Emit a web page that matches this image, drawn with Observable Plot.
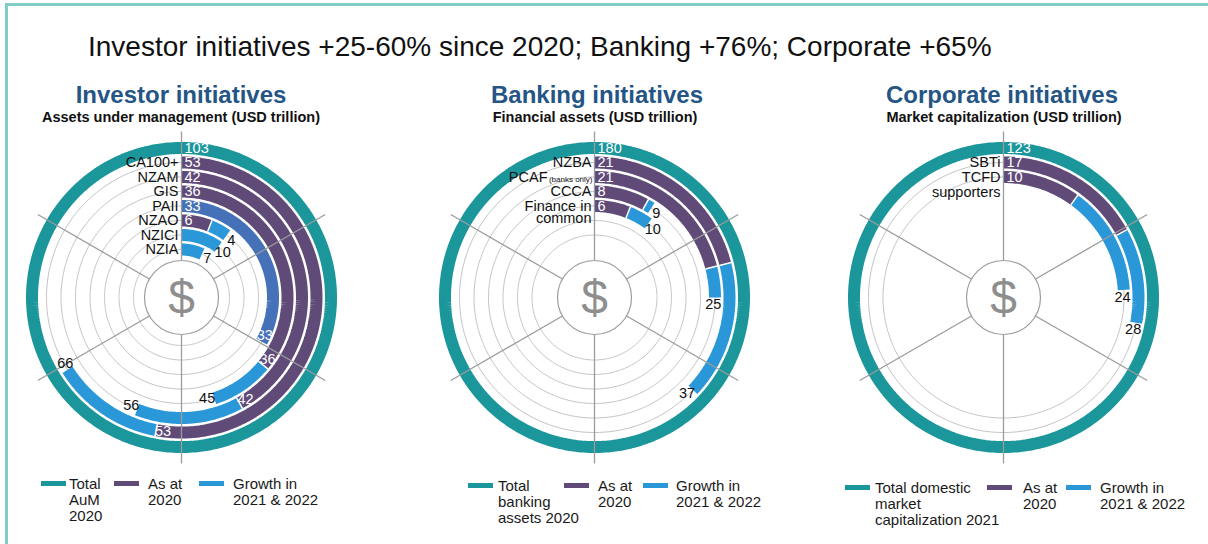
<!DOCTYPE html>
<html><head><meta charset="utf-8">
<script src="https://cdn.jsdelivr.net/npm/d3@7"></script>
<script src="https://cdn.jsdelivr.net/npm/@observablehq/plot@0.6"></script>
<style>
body{margin:0;background:#fff;}
#page{position:relative;width:1208px;height:544px;overflow:hidden;font-family:"Liberation Sans",Arial,sans-serif;color:#111;}
.frame-top{position:absolute;left:5px;top:3px;width:1203px;height:3px;background:#80ccc7;z-index:5;}
.frame-left{position:absolute;left:5px;top:3px;width:3px;height:541px;background:#80ccc7;z-index:5;}
#headline{position:absolute;left:88px;top:33px;font-size:28px;line-height:28px;white-space:nowrap;color:#111;}
.ptitle{position:absolute;top:83px;transform:translateX(-50%);font-weight:bold;color:#245585;font-size:24px;line-height:24px;white-space:nowrap;}
.psub{position:absolute;top:110px;transform:translateX(-50%);font-weight:bold;color:#111;font-size:14.5px;line-height:15px;white-space:nowrap;}
.chart{position:absolute;top:127px;width:400px;height:340px;}
.sw{position:absolute;width:25px;height:5px;}
.lt{position:absolute;font-size:15px;line-height:16px;white-space:pre;color:#1a1a1a;}
</style></head>
<body><div id="page">
<div class="frame-top"></div><div class="frame-left"></div>
<div id="headline"></div>
</div>
<script>
// ---------------- data ----------------
const headline = "Investor initiatives +25-60% since 2020; Banking +76%; Corporate +65%";
const seriesNames = ["Total", "As at 2020", "Growth in 2021 & 2022", "PAII"];

// Investor initiatives
const invTitle = "Investor initiatives";
const invSubtitle = "Assets under management (USD trillion)";
const invTotal = 103;
const invNames = ["CA100+", "NZAM", "GIS", "PAII", "NZAO", "NZICI", "NZIA"];
const invNameSmall = ["", "", "", "", "", "", ""];
const invNameLine2 = ["", "", "", "", "", "", ""];
const invBase = [53, 42, 36, 33, 6, 0, 0];
const invLatest = [66, 56, 45, 33, 10, 10, 7];
const invBaseSeries = ["As at 2020", "As at 2020", "As at 2020", "PAII", "As at 2020", "As at 2020", "As at 2020"];
const invTopLabels = ["53", "42", "36", "33", "6", "", ""];
const invMidLabels = ["53", "42", "36", "33", "", "", ""];
const invEndLabels = ["66", "56", "45", "", "4", "10", "7"];
const invLegend = ["Total\nAuM\n2020", "As at\n2020", "Growth in\n2021 & 2022"];

// Banking initiatives
const bnkTitle = "Banking initiatives";
const bnkSubtitle = "Financial assets (USD trillion)";
const bnkTotal = 180;
const bnkNames = ["NZBA", "PCAF", "CCCA", "Finance in"];
const bnkNameSmall = ["", "(banks only)", "", ""];
const bnkNameLine2 = ["", "", "", "common"];
const bnkBase = [21, 21, 8, 6];
const bnkLatest = [37, 25, 9, 10];
const bnkBaseSeries = ["As at 2020", "As at 2020", "As at 2020", "As at 2020"];
const bnkTopLabels = ["21", "21", "8", "6"];
const bnkMidLabels = ["", "", "", ""];
const bnkEndLabels = ["37", "25", "9", "10"];
const bnkLegend = ["Total\nbanking\nassets 2020", "As at\n2020", "Growth in\n2021 & 2022"];

// Corporate initiatives
const corTitle = "Corporate initiatives";
const corSubtitle = "Market capitalization (USD trillion)";
const corTotal = 123;
const corNames = ["SBTi", "TCFD"];
const corNameSmall = ["", ""];
const corNameLine2 = ["", "supporters"];
const corBase = [17, 10];
const corLatest = [28, 24];
const corBaseSeries = ["As at 2020", "As at 2020"];
const corTopLabels = ["17", "10"];
const corMidLabels = ["", ""];
const corEndLabels = ["28", "24"];
const corLegend = ["Total domestic\nmarket\ncapitalization 2021", "As at\n2020", "Growth in\n2021 & 2022"];

// ---------------- layout / style ----------------
const palette = ["#1b969b", "#5f4a78", "#2a98d8", "#4471b8"];
const TURN = 100; // USD trillion per full turn of an initiative ring
const angle = d3.scaleLinear().domain([0, TURN]).range([0, 360]);
const R_TOTAL = 149.5, PITCH = 14.5, BAND = 12, R_HUB = 37, R_SPOKE = 166;
const spokeAngles = [0, 60, 120, 180, 240, 300];
const rad = a => a * Math.PI / 180;
const px = (r, a) => r * Math.sin(rad(a));
const py = (r, a) => r * Math.cos(rad(a));
const ringR = i => R_TOTAL - PITCH * (i + 1);
function arc(r, a0, a1, key, series) {
  const n = Math.max(2, Math.ceil(Math.abs(a1 - a0)) + 1);
  return d3.range(n).map(k => {
    const a = a0 + (a1 - a0) * k / (n - 1);
    return {x: px(r, a), y: py(r, a), key, series};
  });
}
const FONT = "'Liberation Sans', Arial, sans-serif";
const FS = 14.5;

function buildChart(c) {
  const rows = c.names.map((name, i) => ({
    i, name, r: ringR(i), base: c.base[i], latest: c.latest[i],
    baseSeries: c.baseSeries[i], top: c.top[i], mid: c.mid[i], end: c.end[i],
    small: c.small[i], line2: c.line2[i],
    nameX: c.small[i] ? -47 : -3
  }));
  const grid = [];
  for (let i = 0; i < c.gridCount; i++) grid.push(...arc(ringR(i), 0, 360, "g" + i, ""));
  const bars = [...arc(R_TOTAL, 0, 361, "total", "Total")];
  const seps = [], mids = [], ends = [];
  rows.forEach(d => {
    const a0 = angle(d.base), a1 = angle(d.latest);
    if (d.base > 0) bars.push(...arc(d.r, 0, a0, "b" + d.i, d.baseSeries));
    if (d.latest > d.base) bars.push(...arc(d.r, a0, a1, "n" + d.i, "Growth in 2021 & 2022"));
    if (d.base > 0 && d.latest > d.base) seps.push({a: a0, r: d.r});
    if (d.mid) { const a = a0 - (7 / d.r) * 180 / Math.PI; mids.push({x: px(d.r, a), y: py(d.r, a), t: d.mid}); }
    if (d.end) { const rr = d.r - 1.5, a = a1 + (7 / d.r) * 180 / Math.PI; ends.push({x: px(rr, a), y: py(rr, a), t: d.end}); }
  });
  const spokes = spokeAngles.map(a => ({x1: px(R_HUB, a), y1: py(R_HUB, a), x2: px(R_SPOKE, a), y2: py(R_SPOKE, a)}));
  const sepLinks = seps.map(s => ({x1: px(s.r - BAND / 2, s.a), y1: py(s.r - BAND / 2, s.a), x2: px(s.r + BAND / 2, s.a), y2: py(s.r + BAND / 2, s.a)}));
  return Plot.plot({
    width: 400, height: 340, margin: 0,
    x: {domain: [-200, 200], axis: null},
    y: {domain: [-170, 170], axis: null},
    color: {domain: seriesNames, range: palette},
    style: {background: "transparent", overflow: "visible", fontFamily: FONT},
    marks: [
      Plot.line(grid, {x: "x", y: "y", z: "key", stroke: "#c3c3c3", strokeWidth: 1}),
      Plot.line(bars, {x: "x", y: "y", z: "key", stroke: "series", strokeWidth: BAND, strokeLinecap: "butt", strokeLinejoin: "miter"}),
      Plot.link(sepLinks, {x1: "x1", y1: "y1", x2: "x2", y2: "y2", stroke: "white", strokeWidth: 1.5}),
      Plot.link(spokes, {x1: "x1", y1: "y1", x2: "x2", y2: "y2", stroke: "#9c9c9c", strokeWidth: 1.3}),
      Plot.dot([{x: 0, y: 0}], {x: "x", y: "y", r: R_HUB, fill: "white", stroke: "#9c9c9c", strokeWidth: 1.2}),
      Plot.text([{x: 0, y: 0, t: "$"}], {x: "x", y: "y", text: "t", fontSize: 48, fill: "#8e8e8e", dy: 1}),
      Plot.text([{x: 3, y: R_TOTAL, t: String(c.total)}], {x: "x", y: "y", text: "t", textAnchor: "start", fontSize: FS, fill: "white"}),
      Plot.text(rows.filter(d => d.top), {x: 3, y: "r", text: "top", textAnchor: "start", fontSize: FS, fill: "white"}),
      Plot.text(rows, {x: "nameX", y: "r", text: "name", textAnchor: "end", fontSize: FS, fill: "#111"}),
      Plot.text(rows.filter(d => d.small), {x: -2, y: "r", text: "small", textAnchor: "end", fontSize: 8, fill: "#111", dy: 2}),
      Plot.text(rows.filter(d => d.line2), {x: -3, y: "r", text: "line2", textAnchor: "end", fontSize: FS, fill: "#111", dy: c.line2dy}),
      Plot.text(mids, {x: "x", y: "y", text: "t", fontSize: FS, fill: "white"}),
      Plot.text(ends, {x: "x", y: "y", text: "t", fontSize: FS, fill: "#111"})
    ]
  });
}

const charts = [
  {title: invTitle, subtitle: invSubtitle, total: invTotal, names: invNames, small: invNameSmall, line2: invNameLine2,
   base: invBase, latest: invLatest, baseSeries: invBaseSeries, top: invTopLabels, mid: invMidLabels, end: invEndLabels,
   legend: invLegend, cx: 181, tx: 181, sx: 181, gridCount: 7, line2dy: 12,
   legTop: 476, swX: [41, 114, 199], ltX: [69, 148, 233]},
  {title: bnkTitle, subtitle: bnkSubtitle, total: bnkTotal, names: bnkNames, small: bnkNameSmall, line2: bnkNameLine2,
   base: bnkBase, latest: bnkLatest, baseSeries: bnkBaseSeries, top: bnkTopLabels, mid: bnkMidLabels, end: bnkEndLabels,
   legend: bnkLegend, cx: 594, tx: 597, sx: 595, gridCount: 6, line2dy: 12,
   legTop: 478, swX: [468, 564, 643], ltX: [498, 598, 676]},
  {title: corTitle, subtitle: corSubtitle, total: corTotal, names: corNames, small: corNameSmall, line2: corNameLine2,
   base: corBase, latest: corLatest, baseSeries: corBaseSeries, top: corTopLabels, mid: corMidLabels, end: corEndLabels,
   legend: corLegend, cx: 1003, tx: 1002, sx: 1004, gridCount: 2, line2dy: 15,
   legTop: 480, swX: [845, 987, 1066], ltX: [875, 1023, 1100]}
];

const page = document.getElementById("page");
document.getElementById("headline").textContent = headline;
charts.forEach(c => {
  const holder = document.createElement("div");
  holder.className = "chart";
  holder.style.left = (c.cx - 200) + "px";
  holder.appendChild(buildChart(c));
  page.appendChild(holder);
  const t = document.createElement("div"); t.className = "ptitle"; t.style.left = c.tx + "px"; t.textContent = c.title; page.appendChild(t);
  const s = document.createElement("div"); s.className = "psub"; s.style.left = c.sx + "px"; s.textContent = c.subtitle; page.appendChild(s);
  c.legend.forEach((lab, k) => {
    const sw = document.createElement("div"); sw.className = "sw";
    sw.style.left = c.swX[k] + "px"; sw.style.top = (c.legTop + 5) + "px"; sw.style.background = palette[k];
    page.appendChild(sw);
    const lt = document.createElement("div"); lt.className = "lt";
    lt.style.left = c.ltX[k] + "px"; lt.style.top = c.legTop + "px"; lt.textContent = lab;
    page.appendChild(lt);
  });
});
</script>
</body></html>
